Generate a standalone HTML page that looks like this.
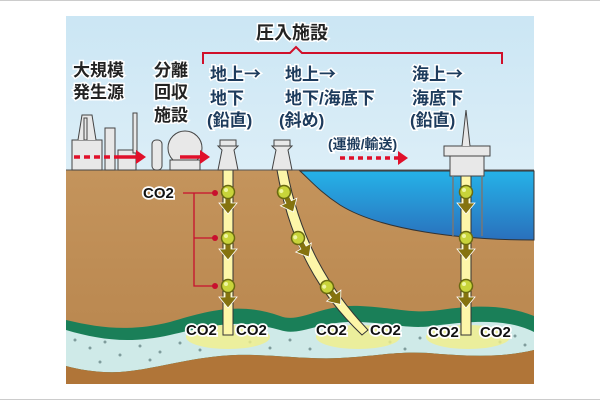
<!DOCTYPE html>
<html><head><meta charset="utf-8"><style>
html,body{margin:0;padding:0;background:#fff;}
svg{display:block}
text{font-family:"Liberation Sans","Noto Sans CJK JP",sans-serif;font-weight:bold}
.ar{font-family:"Noto Sans CJK JP",sans-serif}
</style></head><body>
<svg width="600" height="400" viewBox="0 0 600 400">
<defs>
<linearGradient id="sky" x1="0" y1="0" x2="0" y2="1"><stop offset="0" stop-color="#cbe6f4"/><stop offset="1" stop-color="#f3f9fc"/></linearGradient>
<linearGradient id="gr" x1="0" y1="0" x2="0" y2="1"><stop offset="0" stop-color="#c4945c"/><stop offset="1" stop-color="#b7844c"/></linearGradient>
<linearGradient id="sea" x1="0" y1="0" x2="0" y2="1"><stop offset="0" stop-color="#25b2e8"/><stop offset="1" stop-color="#2a70bc"/></linearGradient>
<g id="dr"><path d="M-3 5 L3 5 L3 11 L9 11 L0 22 L-9 11 L-3 11Z" fill="#85730f" stroke="#fff" stroke-width="0.8"/><circle r="6.5" fill="#c8d43a" stroke="#6a6a10" stroke-width="1.5"/><circle cx="-2" cy="-2" r="2" fill="#eef5a0"/></g>
</defs>
<line x1="0" y1="0.5" x2="600" y2="0.5" stroke="#ccc"/>
<line x1="0" y1="399.5" x2="600" y2="399.5" stroke="#ccc"/>
<rect x="66" y="16" width="468" height="368" fill="url(#sky)"/>
<rect x="66" y="170" width="468" height="214" fill="url(#gr)"/>
<line x1="66" y1="170" x2="534" y2="170" stroke="#555" stroke-width="1"/>
<path d="M300 171 L534 171 L534 240 C460 240 380 230 340 205 C320 192 310 180 300 171Z" fill="url(#sea)" stroke="#333" stroke-width="1"/>
<!-- layers -->
<path d="M66 320 C100 328 130 332 170 322 C210 310 240 302 280 316 C300 324 320 304 360 306 C400 308 410 314 440 310 C480 304 510 306 534 316 L534 384 L66 384Z" fill="#1a7f58"/>
<path d="M66 330 C100 340 130 344 170 335 C210 326 240 318 280 330 C300 337 320 320 360 322 C400 324 410 330 440 325 C480 320 510 320 534 332 L534 350 C500 358 470 356 440 354 C400 350 380 356 340 358 C300 360 260 352 220 356 C180 360 150 370 120 372 C100 373 80 370 66 366Z" fill="#cfeae8"/>
<path d="M66 366 C80 370 100 373 120 372 C150 370 180 360 220 356 C260 352 300 360 340 358 C380 356 400 350 440 354 C470 356 500 358 534 350 L534 384 L66 384Z" fill="#b07538"/>
<g fill="#7f9c9c">
<circle cx="75" cy="340" r="1.5"/><circle cx="90" cy="348" r="1.5"/><circle cx="105" cy="342" r="1.5"/><circle cx="120" cy="355" r="1.5"/><circle cx="140" cy="346" r="1.5"/><circle cx="160" cy="352" r="1.5"/><circle cx="180" cy="343" r="1.5"/><circle cx="200" cy="350" r="1.5"/><circle cx="250" cy="342" r="1.5"/><circle cx="270" cy="348" r="1.5"/><circle cx="290" cy="340" r="1.5"/><circle cx="310" cy="349" r="1.5"/><circle cx="390" cy="342" r="1.5"/><circle cx="405" cy="349" r="1.5"/><circle cx="420" cy="338" r="1.5"/><circle cx="500" cy="342" r="1.5"/><circle cx="515" cy="336" r="1.5"/><circle cx="525" cy="345" r="1.5"/><circle cx="100" cy="362" r="1.5"/><circle cx="150" cy="360" r="1.5"/>
</g>
<g fill="#f2f08a" opacity="0.8">
<ellipse cx="228" cy="337" rx="42" ry="12"/><ellipse cx="358" cy="337" rx="42" ry="12"/><ellipse cx="468" cy="337" rx="42" ry="12"/>
</g>
<!-- pipes -->
<g fill="#fdf6a8" stroke="#333" stroke-width="1">
<rect x="223" y="170" width="10" height="165"/>
<rect x="461" y="170" width="10" height="165"/>
<path d="M277 170 L287 170 C300 240 330 290 368 330 L362 335 C320 295 290 245 277 170Z"/>
</g>
<use href="#dr" x="228" y="192"/><use href="#dr" x="228" y="238"/><use href="#dr" x="228" y="286"/>
<use href="#dr" x="466" y="192"/><use href="#dr" x="466" y="238"/><use href="#dr" x="466" y="286"/>
<use href="#dr" transform="translate(284,192) rotate(-25)"/>
<use href="#dr" transform="translate(298,238) rotate(-30)"/>
<use href="#dr" transform="translate(327,287) rotate(-38)"/>
<!-- red connector -->
<g stroke="#c8102e" stroke-width="1.3" fill="none">
<path d="M183 193 L214 193 M194 193 L194 286 L214 286 M194 238 L214 238"/>
</g>
<g fill="#c8102e"><circle cx="215" cy="193" r="3"/><circle cx="215" cy="238" r="3"/><circle cx="215" cy="286" r="3"/></g>
<g font-size="15" fill="#111" stroke="#fff" stroke-width="3.5" paint-order="stroke">
<text x="143" y="198">CO2</text>
<text x="186" y="335">CO2</text><text x="236" y="335">CO2</text>
<text x="316" y="335">CO2</text><text x="370" y="335">CO2</text>
<text x="428" y="337">CO2</text><text x="480" y="337">CO2</text>
</g>
<!-- facilities -->
<g fill="#e8e8e8" stroke="#444" stroke-width="1">
<rect x="72" y="140" width="30" height="30"/><path d="M78 140 L82 115 L92 115 L96 140"/><rect x="84" y="118" width="3" height="22"/>
<rect x="105" y="128" width="10" height="42"/><rect x="118" y="150" width="18" height="20"/><rect x="133" y="113" width="4" height="40"/>
<rect x="152" y="140" width="10" height="30" rx="4"/>
<circle cx="185" cy="148" r="17"/><rect x="170" y="160" width="30" height="10"/>
<path d="M218 170 L222 150 L218 146 L238 146 L234 150 L238 170Z"/><rect x="220" y="140" width="16" height="6"/>
<path d="M272 170 L276 150 L272 146 L292 146 L288 150 L292 170Z"/><rect x="274" y="140" width="16" height="6"/>
<rect x="444" y="146" width="46" height="10"/><rect x="450" y="156" width="34" height="20"/><path d="M462 146 L466 110 L470 146"/>
</g>
<g stroke="#777" stroke-width="1.5"><line x1="453" y1="176" x2="453" y2="236"/><line x1="482" y1="176" x2="482" y2="236"/></g>
<!-- red dotted arrows -->
<g stroke="#e0102a" stroke-width="3.5" fill="none">
<line x1="74" y1="157" x2="118" y2="157" stroke-dasharray="6,4"/><line x1="118" y1="157" x2="136" y2="157"/>
<line x1="180" y1="157" x2="200" y2="157"/>
<line x1="340" y1="158" x2="398" y2="158" stroke-dasharray="5,4"/>
</g>
<g fill="#e0102a"><path d="M136 150 L146 157 L136 164Z"/><path d="M200 150 L210 157 L200 164Z"/><path d="M398 151 L408 158 L398 165Z"/></g>
<!-- bracket -->
<path d="M203 64 L203 53 L290 53 L296 47 L302 53 L502 53 L502 64" fill="none" stroke="#d0102a" stroke-width="2"/>
<g font-size="17" fill="#222" stroke="#fff" stroke-width="3" paint-order="stroke">
<text x="256" y="39" font-size="18">圧入施設</text>
<text x="73" y="76">大規模</text><text x="73" y="98">発生源</text>
<text x="154" y="76">分離</text><text x="154" y="98">回収</text><text x="154" y="121">施設</text>
</g>
<g font-size="17" fill="#1d3b5c" stroke="#fff" stroke-width="3" paint-order="stroke">
<text x="210" y="80">地上<tspan class="ar">→</tspan></text><text x="210" y="104">地下</text><text x="207" y="126">(鉛直)</text>
<text x="285" y="80">地上<tspan class="ar">→</tspan></text><text x="285" y="104">地下/海底下</text><text x="279" y="126">(斜め)</text>
<text x="412" y="80">海上<tspan class="ar">→</tspan></text><text x="412" y="104">海底下</text><text x="410" y="126">(鉛直)</text>
<text x="328" y="149" font-size="14">(運搬/輸送)</text>
</g>
</svg>
</body></html>
